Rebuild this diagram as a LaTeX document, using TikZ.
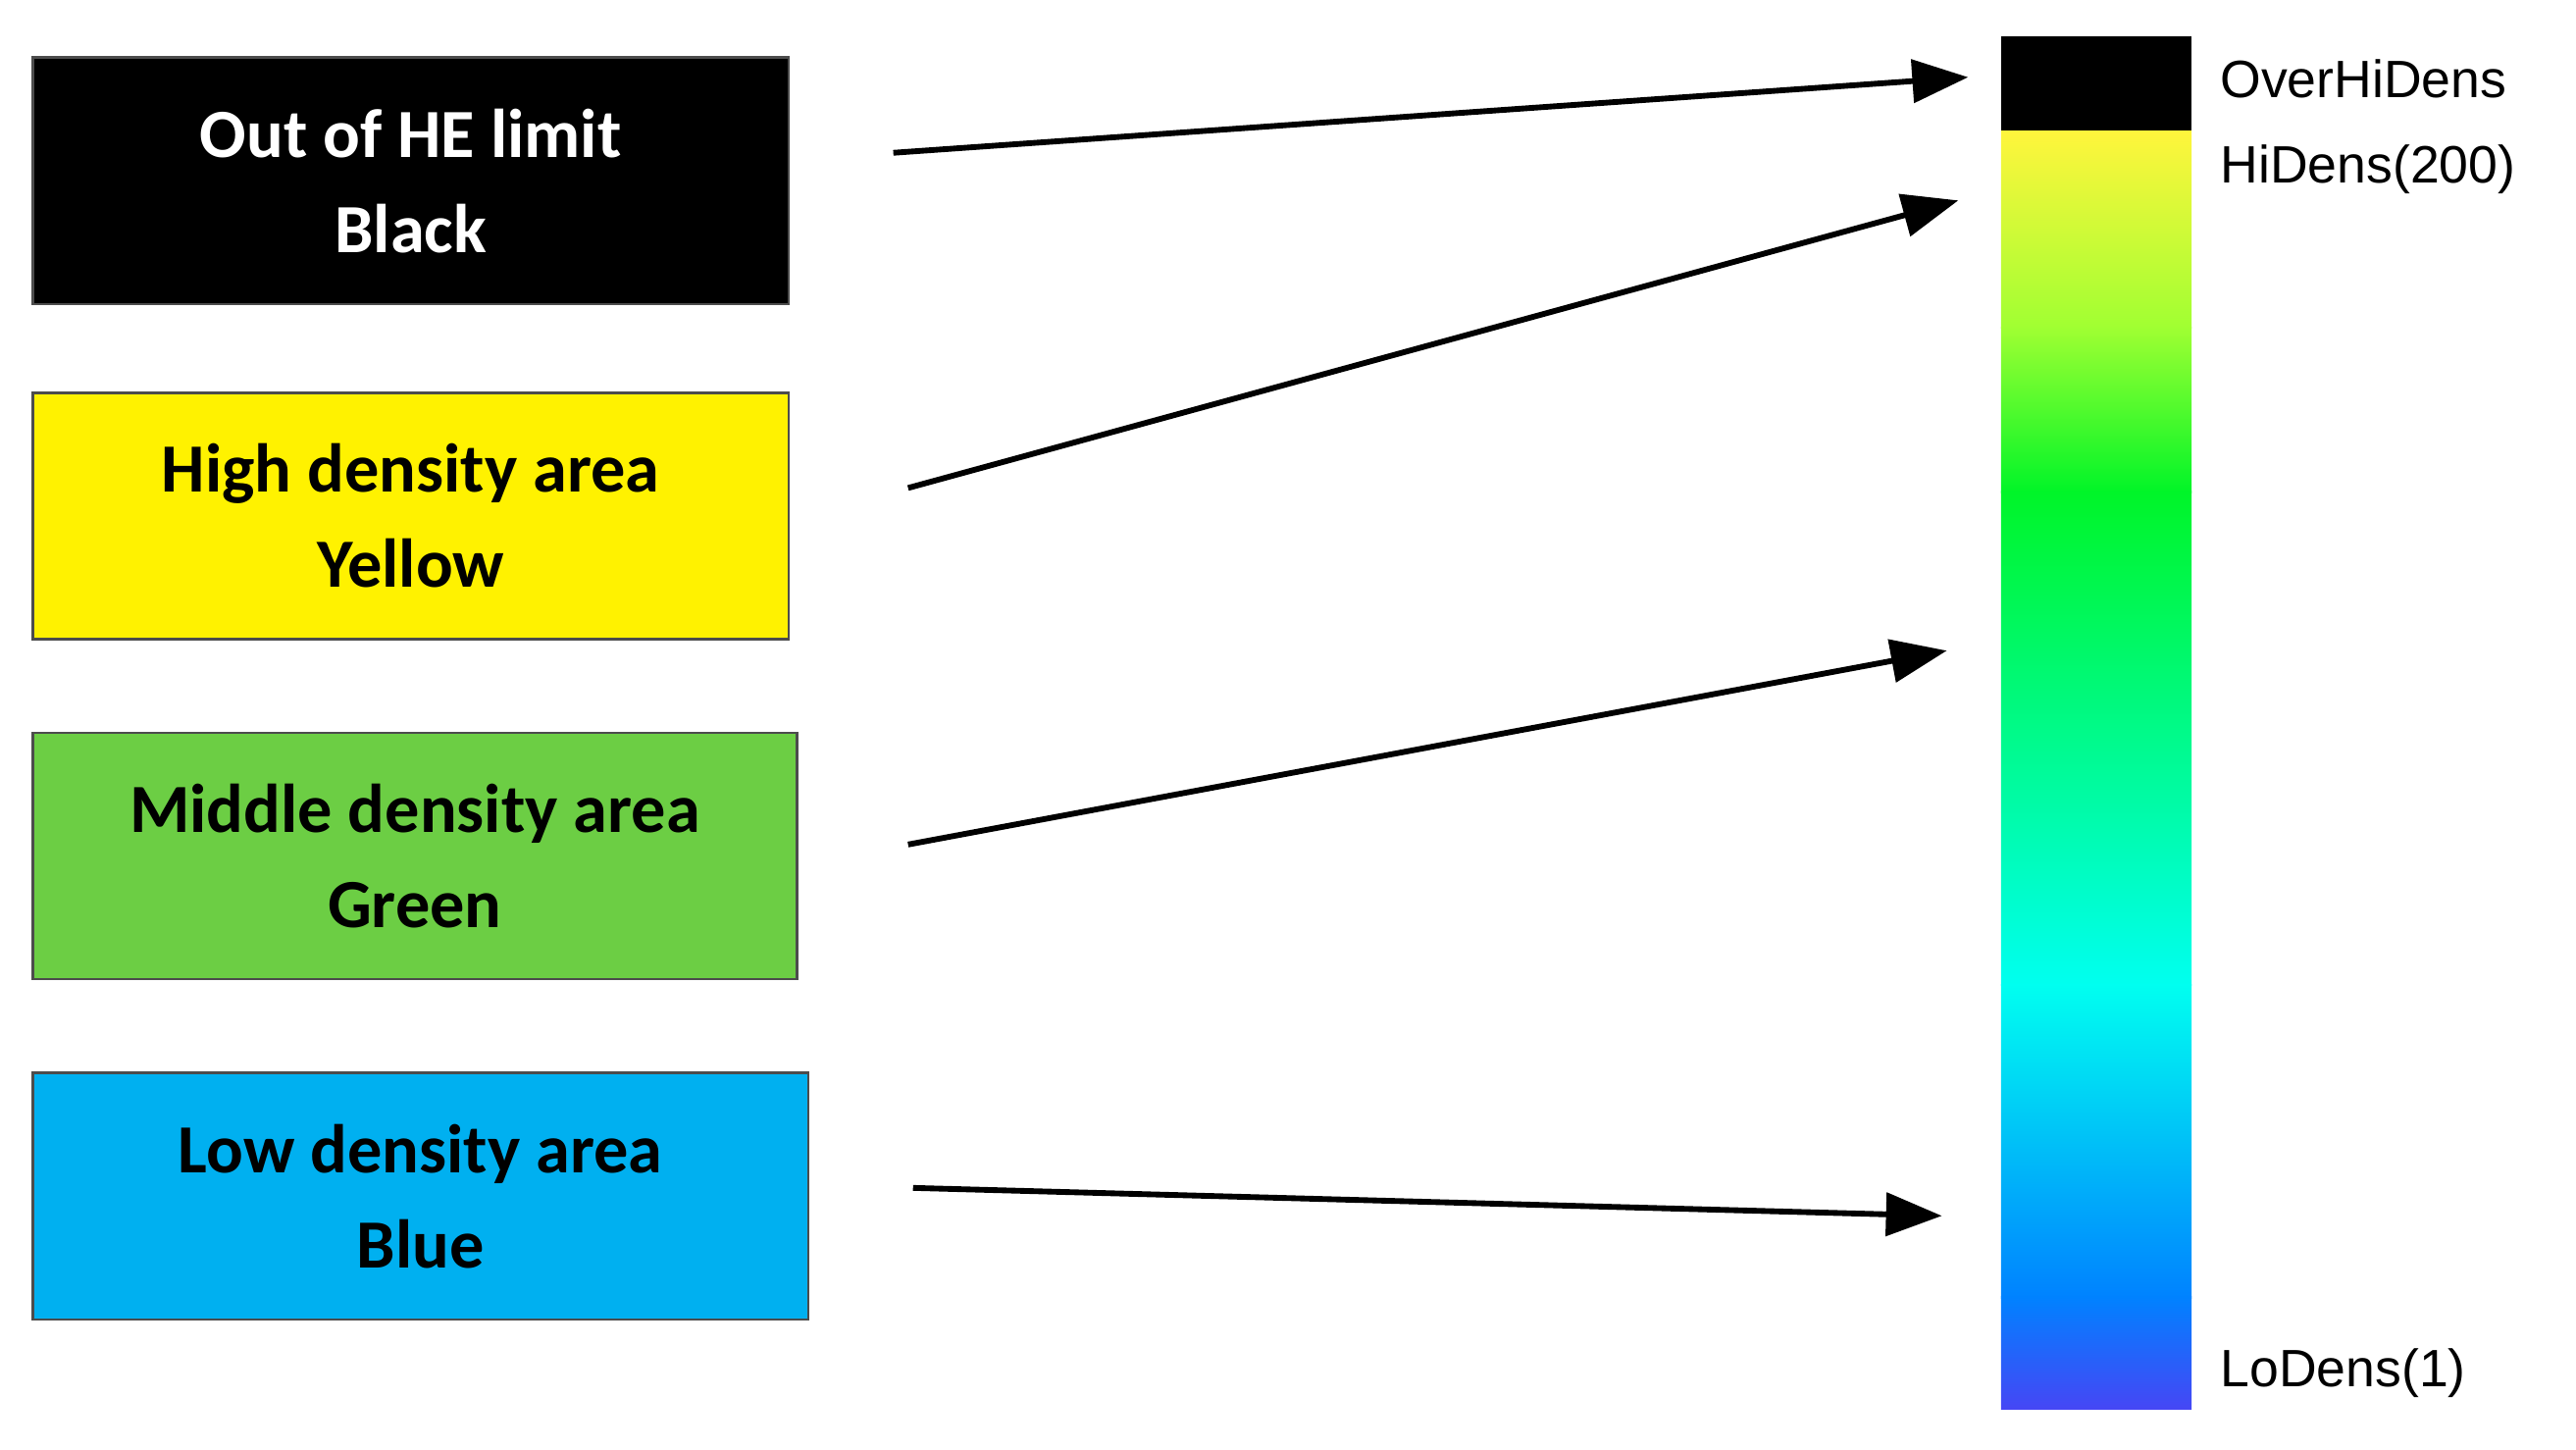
\documentclass[tikz,border=0pt]{standalone}
\usepackage{fontspec}
\setmainfont{Carlito}
\newfontfamily\lab{Liberation Sans}
\usetikzlibrary{arrows.meta}
\begin{document}
\begin{tikzpicture}[x=1pt,y=-1pt,
 box/.style={draw=black!70,line width=1.5pt,minimum height=150pt,align=center,font=\fontsize{42}{58}\selectfont\bfseries},
 arr/.style={line width=3.5pt,-{Triangle[length=34pt,width=26pt]}},
 lbl/.style={anchor=west,font=\lab\fontsize{32}{36}\selectfont}]
\useasboundingbox (0,0) rectangle (1568,882);
\node[box,fill=black,text=white,minimum width=460pt] (b1) at (250,110) {Out of HE limit\\Black};
\node[box,fill=yellow,minimum width=460pt] (b2) at (250,314) {High density area\\Yellow};
\node[box,fill={rgb,255:red,108;green,206;blue,68},minimum width=465pt] (b3) at (252.5,521) {Middle density area\\Green};
\node[box,fill={rgb,255:red,0;green,176;blue,240},minimum width=472pt] (b4) at (256,728) {Low density area\\Blue};
% colour bar
\fill[black] (1218,22) rectangle (1334,80);
\shade[top color={rgb,255:red,255;green,245;blue,60},bottom color={rgb,255:red,160;green,255;blue,50}] (1218,80) rectangle (1334,200);
\shade[top color={rgb,255:red,160;green,255;blue,50},bottom color={rgb,255:red,0;green,245;blue,40}] (1218,199) rectangle (1334,300);
\shade[top color={rgb,255:red,0;green,245;blue,40},bottom color={rgb,255:red,0;green,255;blue,240}] (1218,299) rectangle (1334,600);
\shade[top color={rgb,255:red,0;green,255;blue,240},bottom color={rgb,255:red,0;green,130;blue,255}] (1218,599) rectangle (1334,790);
\shade[top color={rgb,255:red,0;green,130;blue,255},bottom color={rgb,255:red,70;green,70;blue,245}] (1218,789) rectangle (1334,858);
\node[lbl] (l1) at (1348,48) {OverHiDens};
\node[lbl] (l2) at (1348,103) {HiDens(200)};
\node[lbl] (l3) at (1348,836) {LoDens(1)};
\coordinate (t1) at (1198,47);
\coordinate (t2) at (1192,122);
\coordinate (t3) at (1185,396);
\coordinate (t4) at (1182,740);
\draw[arr] ([xshift=63pt,yshift=17pt]b1.east) -- (t1);
\draw[arr] ([xshift=72pt,yshift=17pt]b2.east) -- (t2);
\draw[arr] ([xshift=67pt,yshift=7pt]b3.east) -- (t3);
\draw[arr] ([xshift=63pt,yshift=5pt]b4.east) -- (t4);
\end{tikzpicture}
\end{document}
